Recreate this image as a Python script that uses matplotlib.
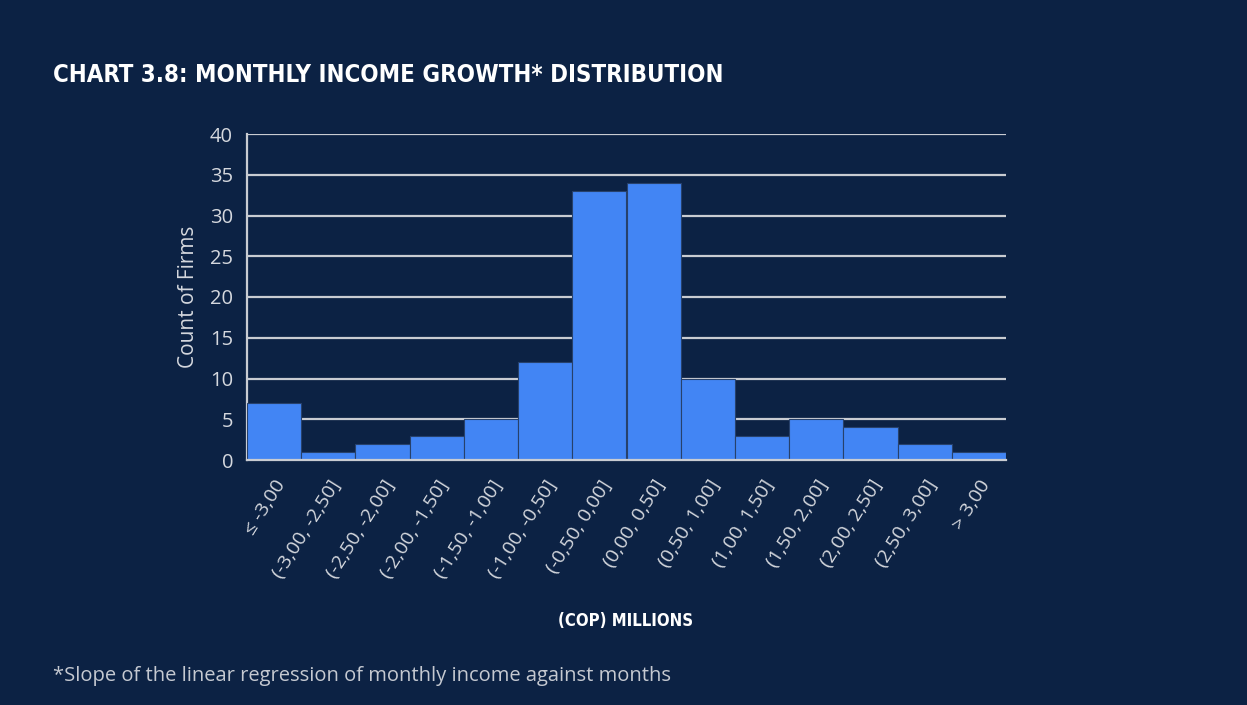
import matplotlib
matplotlib.use("Agg")
import matplotlib.pyplot as plt
import numpy as np

# Histogram bins (COP millions) and firm counts
bins = ["≤ -3,00", "(-3,00, -2,50]", "(-2,50, -2,00]", "(-2,00, -1,50]",
        "(-1,50, -1,00]", "(-1,00, -0,50]", "(-0,50, 0,00]", "(0,00, 0,50]",
        "(0,50, 1,00]", "(1,00, 1,50]", "(1,50, 2,00]", "(2,00, 2,50]",
        "(2,50, 3,00]", "> 3,00"]
counts = [7, 1, 2, 3, 5, 12, 33, 34, 10, 3, 5, 4, 2, 1]
yticks = [0, 5, 10, 15, 20, 25, 30, 35, 40]

BG = "#0c2244"
BAR = "#4285f4"
GRID = "#c9ccd2"
TXT = "#d5d8de"

fig = plt.figure(figsize=(12.47, 7.05), dpi=100, facecolor=BG)
ax = fig.add_axes([247 / 1247, 1 - 460 / 705, (1006 - 247) / 1247, (460 - 134) / 705])
ax.set_facecolor(BG)

x = np.arange(len(counts))
ax.bar(x, counts, width=1.0, color=BAR, edgecolor="#27416b", linewidth=0.8, zorder=3)

ax.set_xlim(-0.5, len(counts) - 0.5)
ax.set_ylim(0, 40)
ax.set_yticks(yticks)
ax.yaxis.grid(True, color=GRID, linewidth=1.6, zorder=1)
ax.set_axisbelow(True)

for s in ["top", "right"]:
    ax.spines[s].set_visible(False)
ax.spines["left"].set_color(GRID)
ax.spines["left"].set_linewidth(1.6)
ax.spines["bottom"].set_color(GRID)
ax.spines["bottom"].set_linewidth(1.6)
ax.spines["bottom"].set_zorder(4)

ax.tick_params(axis="both", length=0, colors=TXT)
ax.tick_params(axis="y", labelsize=14.5, pad=10)
for lab in ax.get_yticklabels():
    lab.set_fontfamily("Open Sans")

ax.set_xticks(x)
ax.set_xticklabels(bins, rotation=58, ha="right", rotation_mode="anchor",
                   fontsize=14, color=TXT, family="Open Sans")
ax.tick_params(axis="x", pad=12)

ax.set_ylabel("Count of Firms", fontsize=15, color=TXT, family="Open Sans", labelpad=8)

cond = "DejaVu Sans"
fig.text(53 / 1247, 1 - 82 / 705, "CHART 3.8: MONTHLY INCOME GROWTH* DISTRIBUTION",
         fontsize=17.2, fontweight="bold", fontstretch="condensed", color="white",
         family=cond, va="baseline")
fig.text(626 / 1247, 1 - 626 / 705, "(COP) MILLIONS", fontsize=12, fontweight="bold",
         fontstretch="condensed", color="white", family=cond, ha="center", va="baseline")
fig.text(53 / 1247, 1 - 681 / 705,
         "*Slope of the linear regression of monthly income against months",
         fontsize=14.5, color="#c5c9d1", family="Open Sans", va="baseline")

fig.savefig("out.png", dpi=100, facecolor=BG)
